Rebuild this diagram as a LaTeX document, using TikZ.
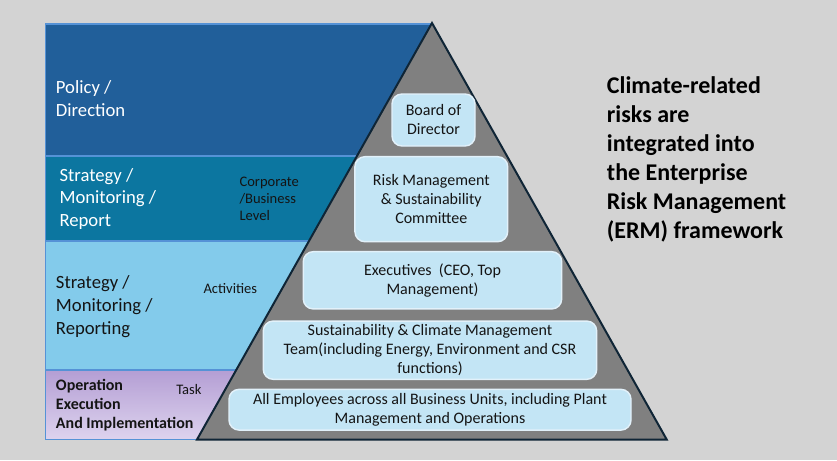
\documentclass[tikz,border=0pt]{standalone}
\usepackage{fontspec}
\setmainfont{Carlito}
\definecolor{bg}{HTML}{D3D3D3}
\definecolor{bandA}{HTML}{215F9A}
\definecolor{bandB}{HTML}{0C76A0}
\definecolor{bandC}{HTML}{83CBEB}
\definecolor{bandDtop}{HTML}{B49ED4}
\definecolor{bandDbot}{HTML}{DDD3EE}
\definecolor{frame}{HTML}{5592D6}
\definecolor{trifill}{HTML}{808080}
\definecolor{triline}{HTML}{0F2536}
\definecolor{boxfill}{HTML}{C3E5F5}
\definecolor{boxline}{HTML}{E2F1FA}
\definecolor{ink}{HTML}{141414}
\begin{document}
\begin{tikzpicture}[x=0.75pt,y=-0.75pt,
  band/.style={draw=frame,line width=1.1pt},
  tier/.style={draw=boxline,fill=boxfill,line width=1.1pt,rounded corners=7.5pt,
    align=center,text=ink,font=\fontsize{12}{14.25}\selectfont,inner sep=0pt},
  bigtxt/.style={anchor=west,align=left,inner sep=0pt,font=\fontsize{14}{17}\selectfont},
  smalltxt/.style={anchor=west,align=left,inner sep=0pt,text=ink,font=\fontsize{10.9}{12.9}\selectfont}]
\useasboundingbox (0,0) rectangle (837,460);
\fill[bg] (0,0) rectangle (837,460);
% bands
\path[band,fill=bandA] (45.5,24) rectangle (432,156);
\path[band,fill=bandB] (45.5,156) rectangle (400,241);
\path[band,fill=bandC] (45.5,241) rectangle (340,370);
\path[band,top color=bandDtop,bottom color=bandDbot] (45.5,370) rectangle (300,439.5);
% pyramid
\draw[fill=trifill,draw=triline,line width=1.5pt,line join=miter] (432,23) -- (666.7,439.5) -- (197,439.5) -- cycle;
% tiers
\node[tier,minimum width=83*0.75pt,minimum height=52*0.75pt] (board) at (433.5,120) {Board of\\Director};
\node[tier,minimum width=152.7*0.75pt,minimum height=85*0.75pt] (risk) at (431.3,199.2) {Risk Management\\\& Sustainability\\Committee};
\node[tier,minimum width=258.4*0.75pt,minimum height=57.3*0.75pt] (exec) at (432.5,280.3) {Executives~ (CEO, Top\\Management)};
\node[tier,minimum width=333.4*0.75pt,minimum height=58.3*0.75pt] (sust) at (430,350.2) {Sustainability \& Climate Management\\Team(including Energy, Environment and CSR\\functions)};
\node[tier,minimum width=402*0.75pt,minimum height=40.7*0.75pt] (allemp) at (430,409.7) {All Employees across all Business Units, including Plant\\Management and Operations};
% left labels
\node[bigtxt,text=white] (policy) at (55.7,98.5) {Policy /\\Direction};
\node[bigtxt,text=white] (stratA) at (59.3,199) {Strategy /\\Monitoring /\\Report};
\node[smalltxt] (corp) at (239.3,198.8) {Corporate\\/Business\\Level};
\node[bigtxt,text=ink] (stratB) at (55.7,306.5) {Strategy /\\Monitoring /\\Reporting};
\node[smalltxt] (act) at (203.3,289) {Activities};
\node[anchor=west,align=left,inner sep=0pt,text=ink,font=\fontsize{12}{14.25}\selectfont\bfseries] (oper) at (55.7,405) {Operation\\Execution\\And Implementation};
\node[smalltxt] (task) at (176,390) {Task};
% right statement
\node[anchor=west,align=left,inner sep=0pt,text=black,font=\fontsize{18}{21.75}\selectfont\bfseries] (stmt) at (606.7,159.7) {Climate-related\\risks are\\integrated into\\the Enterprise\\Risk Management\\(ERM) framework};
\end{tikzpicture}
\end{document}
